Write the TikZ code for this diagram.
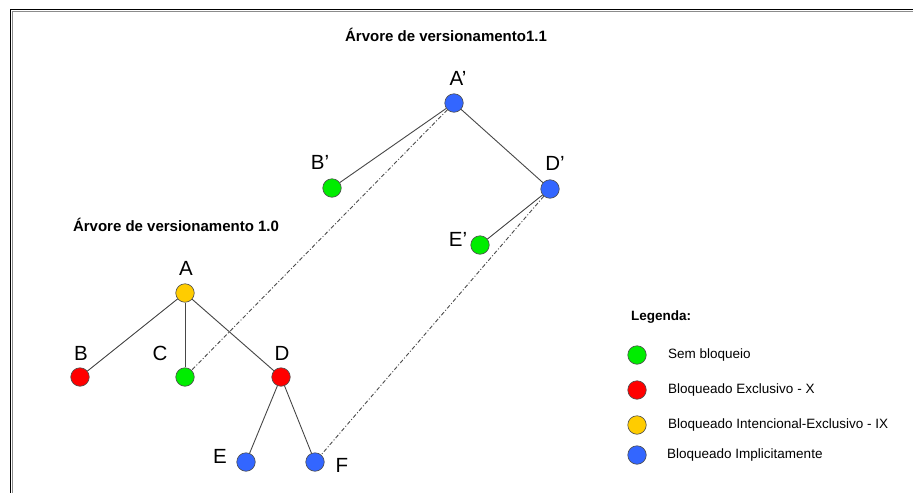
\documentclass[tikz,border=0pt]{standalone}
\usepackage{fontspec}
\setmainfont{Liberation Sans}
\begin{document}
\begin{tikzpicture}[x=1pt,y=-1pt,
  lock/.style={circle,minimum size=18.5pt,inner sep=0pt,draw=black!70,line width=0.6pt},
  free/.style={lock,fill=green!93!black!100},
  excl/.style={lock,fill=red},
  intent/.style={lock,fill={rgb,255:red,255;green,204;blue,0}},
  impl/.style={lock,fill={rgb,255:red,51;green,102;blue,255}},
  lbl/.style={inner sep=0pt,font=\fontsize{20.5}{24}\selectfont},
  ttl/.style={inner sep=0pt,font=\fontsize{15}{18}\selectfont\bfseries},
  leg/.style={inner sep=0pt,anchor=west,font=\fontsize{13.5}{16}\selectfont},
  edge/.style={draw=black!72,line width=0.9pt},
  link/.style={draw=black!70,line width=0.9pt,dash pattern=on 4pt off 2pt on 1pt off 2pt}]
  % canvas and frame
  \fill[white] (0,0) rectangle (913,493);
  \useasboundingbox (0,0) rectangle (913,493);
  \draw[black!45,line width=1pt] (11.5,11) -- (913,11);
  \draw[black!45,line width=1pt] (12,11) -- (12,493);
  \draw[black,line width=1pt] (10,9.5) -- (913,9.5);
  \draw[black,line width=1pt] (10.5,9.5) -- (10.5,493);

  % version tree 1.1
  \node[ttl] (t11) at (446,35) {Árvore de versionamento1.1};
  \node[impl] (Ap) at (454,103) {};
  \node[free] (Bp) at (332,188) {};
  \node[impl] (Dp) at (550,189) {};
  \node[free] (Ep) at (480,245) {};
  \node[lbl] (lAp) at (458,78) {A’};
  \node[lbl] (lBp) at (320,162) {B’};
  \node[lbl] (lDp) at (555,163) {D’};
  \node[lbl] (lEp) at (458,239) {E’};
  \draw[edge] (Ap) -- (Bp);
  \draw[edge] (Ap) -- (Dp);
  \draw[edge] (Dp) -- (Ep);

  % version tree 1.0
  \node[ttl] (t10) at (176,225) {Árvore de versionamento 1.0};
  \node[intent] (A) at (185,293) {};
  \node[excl] (B) at (80,377) {};
  \node[free] (C) at (185,377) {};
  \node[excl] (D) at (281,377) {};
  \node[impl] (E) at (246,462) {};
  \node[impl] (F) at (315,462) {};
  \node[lbl] (lA) at (186,268) {A};
  \node[lbl] (lB) at (81,353) {B};
  \node[lbl] (lC) at (160,353) {C};
  \node[lbl] (lD) at (282,353) {D};
  \node[lbl] (lE) at (220,456) {E};
  \node[lbl] (lF) at (342,465) {F};
  \draw[edge] (A) -- (B);
  \draw[edge] (A) -- (C);
  \draw[edge] (A) -- (D);
  \draw[edge] (D) -- (E);
  \draw[edge] (D) -- (F);

  % links between versions
  \draw[link] (Ap) -- (C);
  \draw[link] (Dp) -- (F);

  % legend
  \node[inner sep=0pt,anchor=west,font=\fontsize{13.5}{16}\selectfont\bfseries] (lg) at (631,317) {Legenda:};
  \node[free] (k1) at (637,355) {};
  \node[excl] (k2) at (637,390) {};
  \node[intent] (k3) at (637,425) {};
  \node[impl] (k4) at (637,455) {};
  \node[leg] (d1) at (668,355) {Sem bloqueio};
  \node[leg] (d2) at (668,390) {Bloqueado Exclusivo - X};
  \node[leg] (d3) at (668,425) {Bloqueado Intencional-Exclusivo - IX};
  \node[leg] (d4) at (667,455) {Bloqueado Implicitamente};
\end{tikzpicture}
\end{document}
